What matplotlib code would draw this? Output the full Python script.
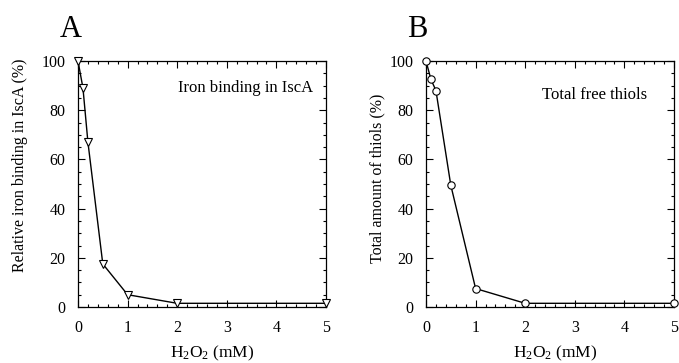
import matplotlib.pyplot as plt
from matplotlib.ticker import MultipleLocator

plt.rcParams["font.family"] = ["Liberation Serif", "DejaVu Serif"]
plt.rcParams["mathtext.fontset"] = "custom"
plt.rcParams["mathtext.rm"] = "Liberation Serif"
plt.rcParams["mathtext.it"] = "Liberation Serif:italic"

# 数据
h2o2 = [0, 0.1, 0.2, 0.5, 1, 2, 5]
iron_binding = [100, 89, 67, 17.5, 5, 1.5, 1.5]
thiols = [100, 92.5, 88, 49.5, 7.5, 1.5, 1.5]

fig = plt.figure(figsize=(6.79, 3.63), dpi=100)
W, H = 679, 363

def make_axes(left, right, top, bottom):
    return fig.add_axes([left / W, 1 - bottom / H, (right - left) / W, (bottom - top) / H])

ax_a = make_axes(78, 326, 61, 307)
ax_b = make_axes(426, 674, 61, 307)

panels = [
    (ax_a, iron_binding, "v", "Relative iron binding in IscA (%)", "Iron binding in IscA", "A",
     (0.948, 0.89), (-0.234, 0.575), (0.54, -0.19)),
    (ax_b, thiols, "o", "Total amount of thiols (%)", "Total free thiols", "B",
     (0.89, 0.862), (-0.194, 0.525), (0.52, -0.19)),
]

for ax, vals, mk, ylab, note, letter, npos, ylpos, xlpos in panels:
    ax.plot(h2o2, vals, color="black", lw=1.0, marker=mk, ms=5.3,
            mfc="white", mec="black", mew=0.8, clip_on=False, zorder=3)
    ax.set_xlim(0, 5)
    ax.set_ylim(0, 100)
    ax.xaxis.set_major_locator(MultipleLocator(1))
    ax.xaxis.set_minor_locator(MultipleLocator(0.2))
    ax.yaxis.set_major_locator(MultipleLocator(20))
    ax.yaxis.set_minor_locator(MultipleLocator(5))
    ax.tick_params(which="both", direction="in", top=True, right=True, width=0.8)
    ax.tick_params(which="major", length=5, labelsize=11.5, pad=9)
    ax.tick_params(which="minor", length=2.5)
    for s in ax.spines.values():
        s.set_linewidth(0.9)
    ax.set_xlabel("H$_2$O$_2$ (mM)", fontsize=12.5, va="center")
    ax.xaxis.set_label_coords(*xlpos)
    ax.set_ylabel(ylab, fontsize=11.5, va="center")
    ax.yaxis.set_label_coords(*ylpos)
    ax.text(npos[0], npos[1], note, transform=ax.transAxes, ha="right", va="center", fontsize=12)
    ax.text(-0.075, 1.13, letter, transform=ax.transAxes, ha="left", va="center", fontsize=22)

fig.savefig("out.png", dpi=100)
